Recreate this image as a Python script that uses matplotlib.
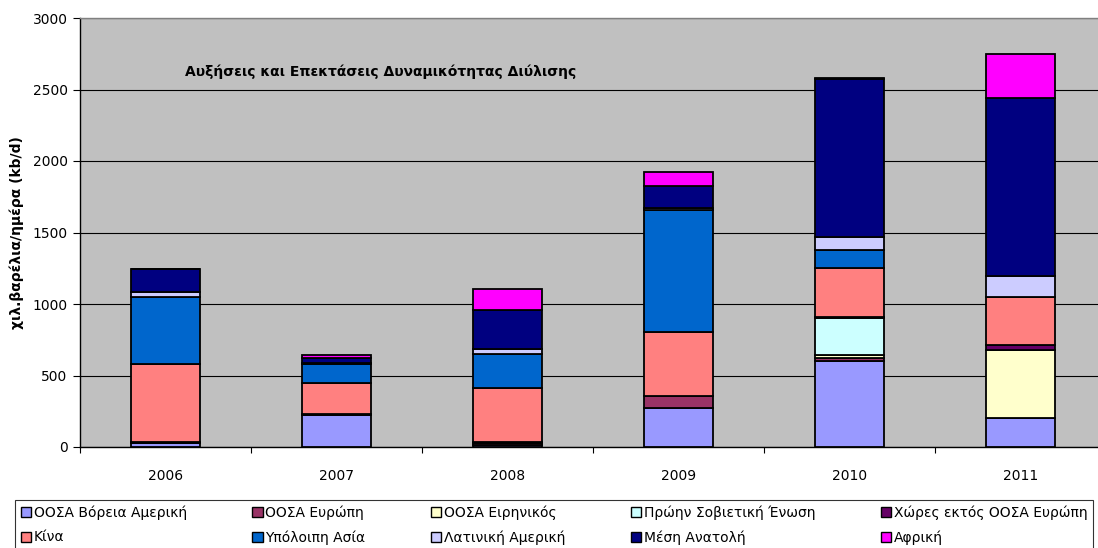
import numpy as np
import matplotlib
matplotlib.use('Agg')
import matplotlib.pyplot as plt

years = ['2006', '2007', '2008', '2009', '2010', '2011']

series_names = ['ΟΟΣΑ Βόρεια Αμερική', 'ΟΟΣΑ Ευρώπη', 'ΟΟΣΑ Ειρηνικός',
                'Πρώην Σοβιετική Ένωση', 'Χώρες εκτός ΟΟΣΑ Ευρώπη', 'Κίνα',
                'Υπόλοιπη Ασία', 'Λατινική Αμερική', 'Μέση Ανατολή', 'Αφρική']

oecd_na = [28, 225, 15, 270, 600, 200]
oecd_europe = [0, 0, 12, 90, 25, 0]
oecd_pacific = [0, 0, 0, 0, 20, 480]
former_ussr = [8, 5, 7, 0, 260, 0]
non_oecd_europe = [0, 0, 0, 0, 5, 30]
china = [545, 215, 378, 445, 345, 338]
rest_asia = [470, 135, 240, 850, 120, 0]
latin_america = [30, 10, 35, 17, 95, 145]
middle_east = [165, 35, 270, 150, 1100, 1250]
africa = [0, 15, 148, 100, 10, 303]

colors = ['#9999FF', '#993366', '#FFFFCC', '#CCFFFF', '#660066',
          '#FF8080', '#0066CC', '#CCCCFF', '#000080', '#FF00FF']

all_series = [oecd_na, oecd_europe, oecd_pacific, former_ussr, non_oecd_europe,
              china, rest_asia, latin_america, middle_east, africa]

plt.rcParams['font.family'] = ['DejaVu Sans']

fig = plt.figure(figsize=(10.98, 5.48), dpi=100)
ax = fig.add_axes([80 / 1098, 101 / 548, 1026 / 1098, 429 / 548])
ax.set_facecolor('#C0C0C0')

x = np.arange(len(years))
bottom = np.zeros(len(years))
bars = []
for name, vals, col in zip(series_names, all_series, colors):
    vals = np.array(vals, dtype=float)
    b = ax.bar(x, vals, width=0.405, bottom=bottom, color=col,
               edgecolor='black', linewidth=1.3, label=name, zorder=3)
    bars.append(b)
    bottom += vals

ax.set_xlim(-0.5, len(years) - 0.5)
ax.set_ylim(0, 3000)
ax.set_yticks(np.arange(0, 3001, 500))
ax.yaxis.grid(True, color='black', linewidth=0.8, zorder=0)
ax.tick_params(axis='y', length=5, width=0.8, pad=4, labelsize=10, direction='out')

ax.set_xticks(np.arange(-0.5, len(years), 1.0))
ax.set_xticklabels([])
ax.tick_params(axis='x', which='major', length=4, width=0.8, direction='out')
ax.set_xticks(x, minor=True)
ax.set_xticklabels(years, minor=True)
ax.tick_params(axis='x', which='minor', length=0, pad=16, labelsize=10)

for s in ['left', 'bottom']:
    ax.spines[s].set_color('black')
    ax.spines[s].set_linewidth(1.0)
ax.spines['top'].set_color('#808080')
ax.spines['top'].set_linewidth(1.0)
ax.spines['right'].set_visible(False)

ax.set_ylabel('χιλ.βαρέλια/ημέρα (kb/d)', fontsize=10, fontweight='bold', labelpad=6)

ax.text(0.102, 0.874, 'Αυξήσεις και Επεκτάσεις Δυναμικότητας Διύλισης',
        transform=ax.transAxes, fontsize=10, fontweight='bold', va='center', ha='left')

# legend is filled column by column, reorder so rows read like the original
order = [0, 5, 1, 6, 2, 7, 3, 8, 4, 9]
handles = [bars[i] for i in order]
labels = [series_names[i] for i in order]
leg = fig.legend(handles, labels, ncol=5, loc='upper left',
                 bbox_to_anchor=(15 / 1098, 0, 1078 / 1098, 1 - 500 / 548),
                 mode='expand', fontsize=10, frameon=True, fancybox=False,
                 edgecolor='black', handlelength=0.75, handleheight=0.75,
                 handletextpad=0.2, labelspacing=0.75, borderpad=0.4,
                 borderaxespad=0)
leg.get_frame().set_linewidth(0.8)
for p in leg.get_patches():
    p.set_linewidth(1.0)

fig.savefig('out.png', dpi=100)
